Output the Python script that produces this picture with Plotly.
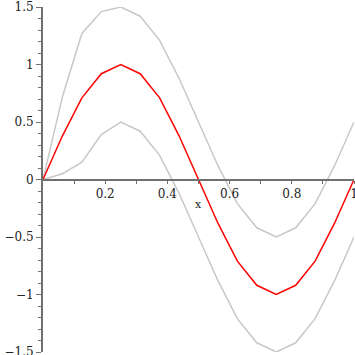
import plotly.graph_objects as go

x_vals = [0, 0.0625, 0.125, 0.1875, 0.25, 0.3125, 0.375, 0.4375, 0.5,
          0.5625, 0.625, 0.6875, 0.75, 0.8125, 0.875, 0.9375, 1.0]
mid_vals = [0, 0.38, 0.71, 0.92, 1.0, 0.92, 0.71, 0.38, 0,
            -0.38, -0.71, -0.92, -1.0, -0.92, -0.71, -0.38, 0]
upper_vals = [0, 0.72, 1.27, 1.46, 1.5, 1.42, 1.21, 0.88, 0.5,
              0.12, -0.21, -0.42, -0.5, -0.42, -0.21, 0.12, 0.5]
lower_vals = [0, 0.05, 0.15, 0.39, 0.5, 0.42, 0.21, -0.12, -0.5,
              -0.88, -1.21, -1.42, -1.5, -1.42, -1.21, -0.88, -0.5]

x_ticks = [0.2, 0.4, 0.6, 0.8, 1.0]
x_ticktext = ["0.2", "0.4", "0.6", "0.8", "1"]
x_minor = [0.1, 0.3, 0.5, 0.7, 0.9]
y_ticks = [-1.5, -1, -0.5, 0, 0.5, 1, 1.5]
y_ticktext = ["\u22121.5", "\u22121", "\u22120.5", "0", "0.5", "1", "1.5"]

gray = "#c8c8c8"
axis_col = "#707070"
font = dict(family="DejaVu Serif", size=12, color="#222222")

fig = go.Figure()
fig.add_trace(go.Scatter(x=x_vals, y=upper_vals, mode="lines",
                         line=dict(color=gray, width=1.5), showlegend=False))
fig.add_trace(go.Scatter(x=x_vals, y=lower_vals, mode="lines",
                         line=dict(color=gray, width=1.5), showlegend=False))
fig.add_trace(go.Scatter(x=x_vals, y=mid_vals, mode="lines",
                         line=dict(color="#ff0000", width=1.5), showlegend=False))

fig.update_layout(
    width=355, height=355,
    margin=dict(l=43, r=1, t=7, b=3),
    paper_bgcolor="white", plot_bgcolor="white",
    font=font,
    xaxis=dict(range=[0, 1], showgrid=False, zeroline=False, automargin=False,
               showline=True, linecolor=axis_col, linewidth=2,
               anchor="free", position=0.5, side="bottom",
               tickmode="array", tickvals=x_ticks, ticktext=x_ticktext,
               ticks="outside", ticklen=3, tickwidth=1, tickcolor=axis_col,
               tickfont=font, ticklabeloverflow="allow",
               minor=dict(tickmode="array", tickvals=x_minor, ticks="outside",
                          ticklen=3, tickwidth=1, tickcolor=axis_col)),
    yaxis=dict(range=[-1.5, 1.5], showgrid=False, zeroline=False, automargin=False,
               showline=True, linecolor=axis_col, linewidth=2,
               tickmode="array", tickvals=y_ticks, ticktext=y_ticktext,
               ticks="outside", ticklen=5, tickwidth=1, tickcolor=axis_col,
               tickfont=font, ticklabeloverflow="allow",
               minor=dict(dtick=0.1, ticks="outside", ticklen=3,
                          tickwidth=1, tickcolor=axis_col)),
    annotations=[dict(x=0.5, y=-0.22, xref="x", yref="y", text="x",
                      showarrow=False, font=dict(family="DejaVu Serif", size=11,
                                                 color="#222222"))],
)

fig.write_html("out.html",
               config={"displayModeBar": False},
               post_script="document.body.style.margin='0';"
                           "document.body.style.overflow='hidden';")
